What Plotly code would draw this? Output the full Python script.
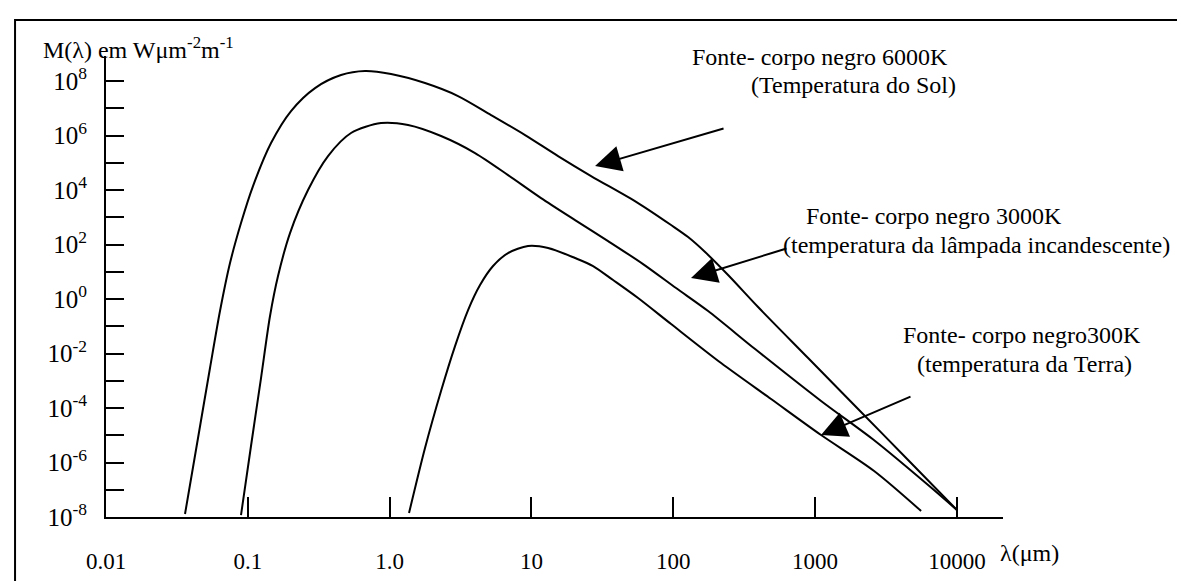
import plotly.graph_objects as go

# ---- data (wavelength in micrometres, exitance M) ----
lam_6000 = [0.03607, 0.04455, 0.05412, 0.06366, 0.07489, 0.08954, 0.1088, 0.1458, 0.2017,
            0.2978, 0.4544, 0.6706, 1.023, 1.776, 3.036, 5.189, 9.015, 15.40, 26.33, 56.46,
            96.5, 127.2, 167.6, 243.5, 396.3, 892.7, 2010, 4528, 10000]
m_6000 = [1.29e-8, 7.92e-6, 2.94e-3, 0.363, 20.9, 615, 1.40e4, 5.31e5, 7.93e6,
          5.53e7, 1.66e8, 2.33e8, 1.81e8, 8.45e7, 2.82e7, 5.65e6, 1.04e6, 1.77e5, 3.27e4,
          3.33e3, 520, 188, 53.1, 7.60, 0.508, 6.84e-3, 9.18e-5, 1.24e-6, 1.81e-8]

lam_3000 = [0.08954, 0.1053, 0.1239, 0.1434, 0.1633, 0.1984, 0.2658, 0.3678, 0.5342, 0.8696,
            1.349, 2.304, 4.002, 6.839, 11.69, 20.30, 34.69, 61.24, 104.6, 176.0, 377.5,
            1102, 2649, 6265, 10000]
m_3000 = [1.18e-8, 4.04e-6, 1.26e-3, 0.238, 6.98, 264, 1.0e4, 1.77e5, 1.24e6, 2.88e6,
          2.43e6, 9.6e5, 2.28e5, 3.55e4, 5.08e3, 793, 134, 19.2, 2.53, 0.363, 1.46e-2,
          1.81e-4, 6.15e-6, 1.49e-7, 1.81e-8]

lam_300 = [1.370, 1.776, 2.304, 2.892, 3.573, 4.340, 5.360, 6.839, 9.462, 13.10, 20.30,
           27.19, 37.63, 56.46, 96.5, 217.4, 489.4, 1102, 2607, 5590]
m_300 = [1.40e-8, 3.40e-6, 4.21e-4, 1.88e-2, 0.394, 3.27, 16.3, 48.8, 88.1, 74.5, 32.0,
         16.3, 4.98, 1.09, 0.121, 4.48e-3, 2.14e-4, 1.02e-5, 4.88e-7, 1.66e-8]

x_tickvals = [0.01, 0.1, 1, 10, 100, 1000, 10000]
x_ticktext = ["0.01", "0.1", "1.0", "10", "100", "1000", "10000"]
y_major_exp = list(range(-8, 9, 2))
y_minor_exp = list(range(-7, 9, 2))
y_tickvals = [10.0 ** k for k in y_major_exp]
y_ticktext = [f"10<sup>{k}</sup>" for k in y_major_exp]
y_minorvals = [10.0 ** k for k in y_minor_exp]

FONT = "Liberation Serif, Times New Roman, serif"

fig = go.Figure()
for lam, m in [(lam_6000, m_6000), (lam_3000, m_3000), (lam_300, m_300)]:
    fig.add_trace(go.Scatter(x=lam, y=m, mode="lines",
                             line=dict(color="black", width=2, shape="spline", smoothing=0.8),
                             showlegend=False, hoverinfo="skip"))

fig.update_layout(
    width=1185, height=581,
    margin=dict(l=98, r=190, t=48, b=72),
    paper_bgcolor="white", plot_bgcolor="white",
    font=dict(family=FONT, size=23, color="black"),
    showlegend=False,
)
fig.update_xaxes(type="log", range=[-2, 4.325], tickmode="array",
                 tickvals=x_tickvals, ticktext=x_ticktext,
                 ticks="inside", ticklen=20, tickwidth=2, tickcolor="black",
                 showline=True, linewidth=2, linecolor="black",
                 showgrid=False, zeroline=False, ticklabelstandoff=22,
                 tickfont=dict(family=FONT, size=23, color="black"))
fig.update_yaxes(type="log", range=[-8, 8.92], tickmode="array",
                 tickvals=y_tickvals, ticktext=y_ticktext,
                 ticks="inside", ticklen=18, tickwidth=2, tickcolor="black",
                 minor=dict(tickmode="array", tickvals=y_minorvals, ticks="inside",
                            ticklen=18, tickwidth=2, tickcolor="black", showgrid=False),
                 showline=True, linewidth=2, linecolor="black",
                 showgrid=False, zeroline=False, ticklabelstandoff=12,
                 tickfont=dict(family=FONT, size=25, color="black"))

# outer frame
fig.add_shape(type="rect", xref="paper", yref="paper",
              x0=-0.1014, x1=1.2074, y0=-0.16, y1=1.078,
              line=dict(color="black", width=2), fillcolor="rgba(0,0,0,0)", layer="below")

ann_font = dict(family=FONT, size=24, color="black")
texts = [
    ("M(λ) em Wμm<sup>-2</sup>m<sup>-1</sup>", -0.0725, 1.0174, "left"),
    ("Fonte- corpo negro 6000K", 0.7960, 0.9978, "center"),
    ("(Temperatura do Sol)", 0.8328, 0.9371, "center"),
    ("Fonte- corpo negro 3000K", 0.9231, 0.6529, "center"),
    ("(temperatura da lâmpada incandescente)", 0.9699, 0.5900, "center"),
    ("Fonte- corpo negro300K", 1.0212, 0.3948, "center"),
    ("(temperatura da Terra)", 1.0245, 0.3319, "center"),
    ("λ(μm)", 0.9946, -0.0781, "left"),
]
for t, x, y, anchor in texts:
    fig.add_annotation(text=t, x=x, y=y, xref="paper", yref="paper",
                       xanchor=anchor, yanchor="middle", showarrow=False,
                       font=ann_font)

arrows = [(0.5452, 0.7614, 130, -38), (0.6522, 0.5184, 97, -30), (0.7971, 0.1779, 91, -39)]
for x, y, ax, ay in arrows:
    fig.add_annotation(text="", x=x, y=y, xref="paper", yref="paper",
                       ax=ax, ay=ay, showarrow=True, arrowhead=2, arrowsize=2.6,
                       arrowwidth=2, arrowcolor="black", standoff=0)

fig.write_html("out.html")
